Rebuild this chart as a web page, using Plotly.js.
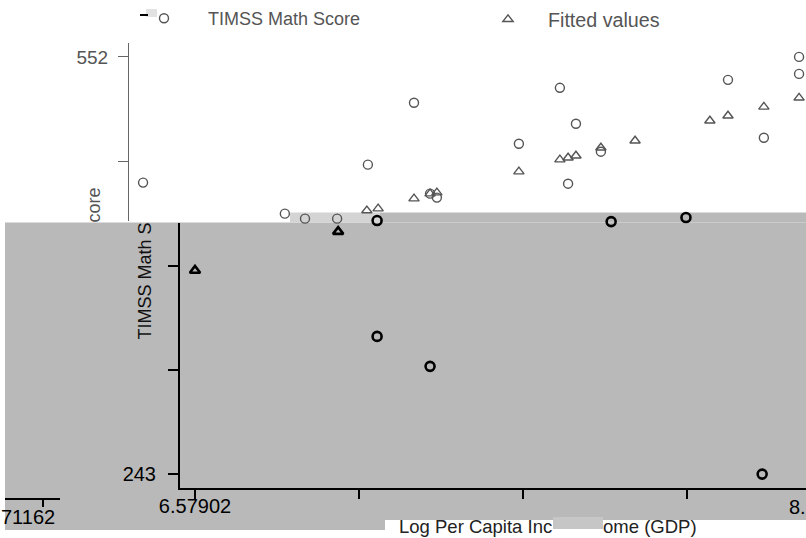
<!DOCTYPE html>
<html><head><meta charset="utf-8">
<script src="https://cdn.plot.ly/plotly-3.0.1.min.js"></script>
<style>html,body{margin:0;padding:0;background:#fff;}#chart{width:806px;height:538px;}</style>
</head><body><div id="chart"></div>
<script>
// ---------- data ----------
const seriesNames = ['TIMSS Math Score', 'Fitted values'];
const scoreLogGDP = [6.427, 6.842, 6.901, 6.995, 7.085, 7.112, 7.112, 7.220, 7.267, 7.287, 7.267, 7.527, 7.647, 7.671, 7.694, 7.767, 7.797, 8.016, 8.139, 8.244, 8.239, 8.347, 8.347];
const mathScore   = [458.9, 435.9, 432.2, 432.2, 472.2, 430.8, 345.0, 518.0, 450.7, 447.8, 322.8, 487.7, 529.1, 458.1, 502.5, 481.8, 430.0, 433.0, 535.0, 492.1, 243.0, 552.0, 539.4];
const fittedLogGDP = [6.579, 6.998, 7.082, 7.115, 7.220, 7.267, 7.287, 7.527, 7.647, 7.671, 7.694, 7.767, 7.867, 8.086, 8.139, 8.244, 8.347];
const fittedValues = [393.8, 422.6, 438.2, 439.6, 447.0, 450.7, 451.5, 467.0, 475.9, 477.3, 478.8, 484.7, 489.9, 504.7, 508.4, 515.0, 521.7];
const xTickLabels = ['6.57902', '', '', ''];
const yTickLabelsLower = ['243', '', ''];
const yTickLabelsUpper = ['552', ''];
const yMinLabel = 243, yMaxLabel = 552, xMinLabel = 6.57902, xStep = 0.48;

// ---------- geometry ----------
const W = 806, H = 538;
const yTopPx = 56, yBotPx = 474;
const yPerPx = (yMaxLabel - yMinLabel) / (yBotPx - yTopPx);
const pxToY = p => yMaxLabel - (p - yTopPx) * yPerPx;
const xMinPx = 195, xStepPx = 164;
const pxToX = p => xMinLabel + (p - xMinPx) * xStep / xStepPx;
const fx = p => p / W, fy = p => 1 - p / H;

const yStep = (yMaxLabel - yMinLabel) / 4;
const yTickValsLower = [0, 1, 2].map(k => yMinLabel + k * yStep);
const yTickValsUpper = [yMaxLabel, yMaxLabel - yStep];
const xTickVals = [0, 1, 2, 3].map(k => xMinLabel + k * xStep);

// points inside the grey band are drawn black, the rest grey
const boundary = x => (x < 7.0 ? pxToY(222) : pxToY(212));
function split(xs, ys) {
  const up = {x: [], y: []}, low = {x: [], y: []};
  xs.forEach((x, i) => { const t = ys[i] < boundary(x) ? low : up; t.x.push(x); t.y.push(ys[i]); });
  return {up, low};
}
const S = split(scoreLogGDP, mathScore), F = split(fittedLogGDP, fittedValues);

const grey = '#555';
const mk = (sym, col, lw) => ({symbol: sym, size: 9, color: col, line: {width: lw, color: col}});
const dataAx = {xaxis: 'x2', yaxis: 'y3', type: 'scatter', mode: 'markers', cliponaxis: false, hoverinfo: 'skip'};
const traces = [
  // empty traces so the drawn axes exist
  {x: [], y: [], xaxis: 'x', yaxis: 'y', type: 'scatter', mode: 'markers', showlegend: false},
  {x: [], y: [], xaxis: 'x', yaxis: 'y2', type: 'scatter', mode: 'markers', showlegend: false},
  Object.assign({x: S.up.x, y: S.up.y, name: seriesNames[0], legend: 'legend', marker: mk('circle-open', grey, 1.4)}, dataAx),
  Object.assign({x: F.up.x, y: F.up.y, name: seriesNames[1], legend: 'legend2', marker: mk('triangle-up-open', grey, 1.4)}, dataAx),
  Object.assign({x: S.low.x, y: S.low.y, name: seriesNames[0], showlegend: false, marker: mk('circle-open', '#000', 2.6)}, dataAx),
  Object.assign({x: F.low.x, y: F.low.y, name: seriesNames[1], showlegend: false, marker: mk('triangle-up-open', '#000', 2.6)}, dataAx)
];

const rect = (x0, x1, y0, y1, fill) => ({type: 'rect', xref: 'paper', yref: 'paper', x0: fx(x0), x1: fx(x1), y0: fy(y1), y1: fy(y0), fillcolor: fill, line: {width: 0}, layer: 'below'});
const seg = (x0, y0, x1, y1, col, w) => ({type: 'line', xref: 'paper', yref: 'paper', x0: fx(x0), x1: fx(x1), y0: fy(y0), y1: fy(y1), line: {color: col, width: w}, layer: 'above'});
const bg = '#b9b9b9';
const shapes = [
  rect(5, 806, 222, 520, bg),
  rect(380, 806, 212, 222, bg),
  rect(290, 380, 212, 222, '#d4d4d4'),
  rect(5, 385, 520, 530, bg),
  rect(146, 157, 8, 16, '#e2e2e2'),
  rect(553, 603, 517, 529, '#c6c6c6'),
  seg(5, 499, 60, 499, '#000', 2),
  seg(43, 499, 43, 507, '#000', 2),
  seg(140, 14, 148, 14, '#000', 2)
];

const ann = (t, x, y, o) => Object.assign({text: t, xref: 'paper', yref: 'paper', x: fx(x), y: fy(y), showarrow: false, xanchor: 'center', yanchor: 'middle', font: {size: 18, color: '#000'}}, o || {});
const annotations = [
  ann('core', 94, 205, {textangle: -90, font: {size: 18, color: grey}}),
  ann('TIMSS Math S', 145, 281, {textangle: -90, font: {size: 18, color: '#111'}}),
  ann('71162', 57, 517, {xanchor: 'right', font: {size: 20, color: '#000'}}),
  ann('8.', 787, 507, {xanchor: 'left', font: {size: 20, color: '#000'}}),
  ann('Log Per Capita Inc', 397, 526, {xanchor: 'left', font: {size: 18.5, color: '#222'}}),
  ann('ome (GDP)', 699, 526, {xanchor: 'right', font: {size: 18.5, color: '#222'}})
];

const legendBase = {orientation: 'h', xanchor: 'left', yanchor: 'top', y: fy(-1), bgcolor: 'rgba(0,0,0,0)', borderwidth: 0};
const layout = {
  width: W, height: H,
  margin: {l: 0, r: 0, t: 0, b: 0},
  paper_bgcolor: '#fff', plot_bgcolor: 'rgba(0,0,0,0)',
  font: {family: 'Liberation Sans, Arial, sans-serif'},
  showlegend: true,
  legend: Object.assign({}, legendBase, {x: fx(120), itemwidth: 78, font: {size: 18, color: grey}}),
  legend2: Object.assign({}, legendBase, {x: fx(468), itemwidth: 70, font: {size: 19.7, color: grey}}),
  xaxis: {
    domain: [fx(180), 1], range: [pxToX(180), pxToX(806)], anchor: 'y',
    showline: true, linecolor: '#000', linewidth: 2, showgrid: false, zeroline: false,
    ticks: 'outside', ticklen: 9, tickwidth: 2, tickcolor: '#000',
    tickmode: 'array', tickvals: xTickVals, ticktext: xTickLabels,
    tickfont: {size: 20, color: '#000'}, ticklabelstandoff: -10
  },
  yaxis: {
    domain: [fy(488), fy(222)], range: [pxToY(488), pxToY(222)], anchor: 'x',
    showline: true, linecolor: '#000', linewidth: 2, showgrid: false, zeroline: false,
    ticks: 'outside', ticklen: 10, tickwidth: 2, tickcolor: '#000',
    tickmode: 'array', tickvals: yTickValsLower, ticktext: yTickLabelsLower,
    tickfont: {size: 20, color: '#000'}, ticklabelstandoff: 8
  },
  yaxis2: {
    domain: [fy(220), fy(42)], range: [pxToY(220), pxToY(42)], anchor: 'free', position: fx(128),
    showline: true, linecolor: '#666', linewidth: 1, showgrid: false, zeroline: false,
    ticks: 'outside', ticklen: 10, tickwidth: 1, tickcolor: '#666',
    tickmode: 'array', tickvals: yTickValsUpper, ticktext: yTickLabelsUpper,
    tickfont: {size: 19, color: grey}, ticklabelstandoff: 6
  },
  xaxis2: {domain: [0, 1], range: [pxToX(0), pxToX(W)], anchor: 'y3', visible: false, showgrid: false, zeroline: false},
  yaxis3: {domain: [0, 1], range: [pxToY(H), pxToY(0)], anchor: 'x2', visible: false, showgrid: false, zeroline: false},
  shapes: shapes,
  annotations: annotations
};
Plotly.newPlot('chart', traces, layout, {staticPlot: true, displayModeBar: false});
</script>
</body></html>
